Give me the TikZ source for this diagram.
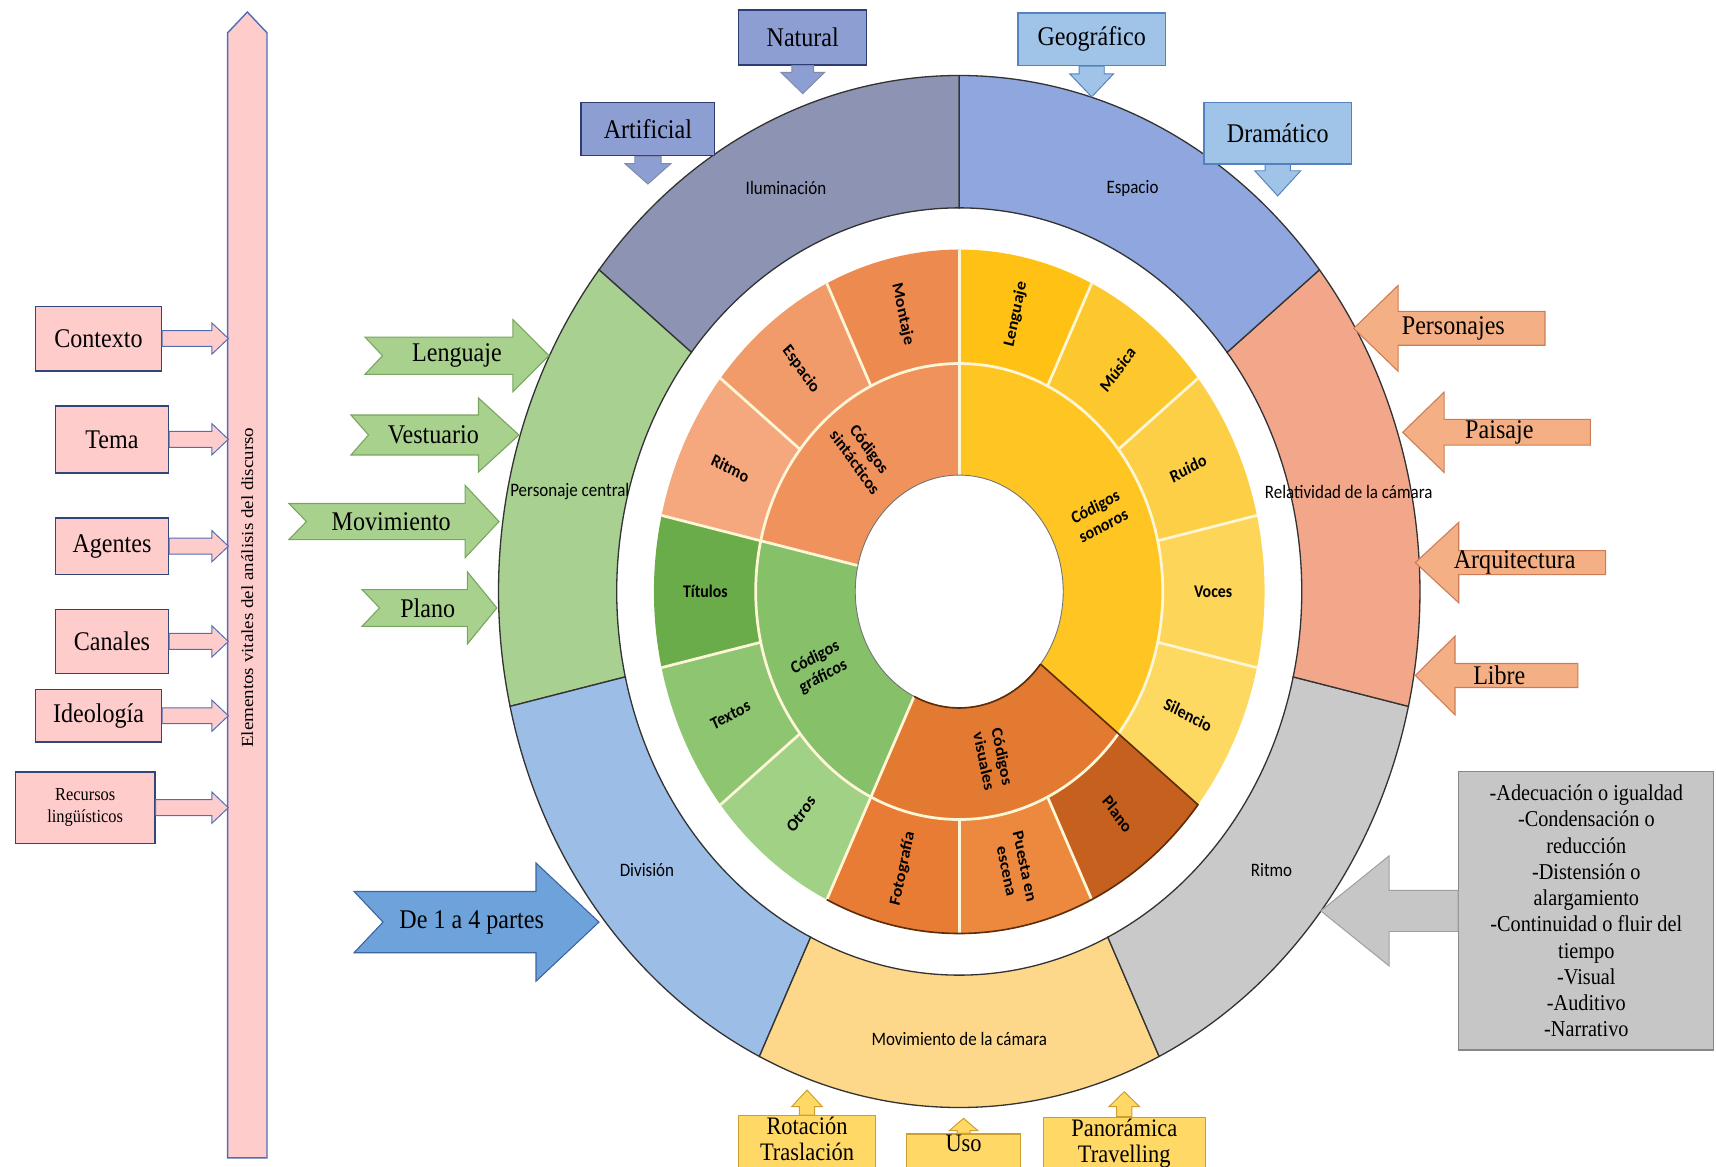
\documentclass[tikz,border=0pt]{standalone}
\usepackage{fontspec}
\setmainfont{Liberation Serif}
\newfontfamily\wheelfont{Carlito}

% box and arrow colours
\definecolor{pinkfill}{RGB}{255,204,204}
\definecolor{boxline}{RGB}{50,70,120}
\definecolor{barline}{RGB}{80,110,180}
\definecolor{greenfill}{RGB}{169,209,142}
\definecolor{greenline}{RGB}{120,165,95}
\definecolor{partsfill}{RGB}{110,162,218}
\definecolor{partsline}{RGB}{60,100,160}
\definecolor{lampfill}{RGB}{140,158,210}
\definecolor{lampline}{RGB}{45,60,115}
\definecolor{skyfill}{RGB}{160,196,232}
\definecolor{skyline}{RGB}{85,130,190}
\definecolor{salmonfill}{RGB}{244,176,132}
\definecolor{salmonline}{RGB}{205,125,85}
\definecolor{greyfill}{RGB}{198,198,198}
\definecolor{greyline}{RGB}{135,135,135}
\definecolor{goldfill}{RGB}{255,216,102}
\definecolor{goldline}{RGB}{205,160,45}
% outer ring
\definecolor{cIlum}{RGB}{141,147,178}
\definecolor{cPers}{RGB}{168,208,145}
\definecolor{cDivi}{RGB}{156,190,230}
\definecolor{cMovi}{RGB}{254,216,138}
\definecolor{cRitm}{RGB}{201,201,201}
\definecolor{cRela}{RGB}{243,167,138}
\definecolor{cEspa}{RGB}{143,166,222}
% inner rings
\definecolor{cSint}{RGB}{240,146,92}
\definecolor{cGraf}{RGB}{134,192,105}
\definecolor{cVisu}{RGB}{226,122,50}
\definecolor{cSono}{RGB}{255,198,35}
\definecolor{cMontaje}{RGB}{237,138,80}
\definecolor{cEspacio}{RGB}{242,155,106}
\definecolor{cRitmo}{RGB}{245,168,125}
\definecolor{cTitulos}{RGB}{106,172,74}
\definecolor{cTextos}{RGB}{142,197,113}
\definecolor{cOtros}{RGB}{160,209,133}
\definecolor{cFoto}{RGB}{232,124,52}
\definecolor{cPuesta}{RGB}{237,137,62}
\definecolor{cPlano}{RGB}{198,96,30}
\definecolor{cSilencio}{RGB}{253,217,98}
\definecolor{cVoces}{RGB}{253,213,88}
\definecolor{cRuido}{RGB}{252,207,70}
\definecolor{cMusica}{RGB}{252,200,46}
\definecolor{cLenguaje}{RGB}{255,194,20}
\definecolor{cream}{RGB}{255,246,215}
\definecolor{visline}{RGB}{95,45,10}

% ring piece: style, inner r, outer r, from, to
\newcommand{\ringpiece}[5]{%
  \path[#1] (#4:#2) arc[start angle=#4, end angle=#5, radius=#2] -- (#5:#3) arc[start angle=#5, end angle=#4, radius=#3] -- cycle;}
% block arrow: style, tail, direction, length, shaft half, head half, head length, notch
\newcommand{\blockarrow}[8][]{%
  \draw[#1, shift={#2}, rotate=#3] (0,-#5) -- ({#4-#7},-#5) -- ({#4-#7},-#6) -- (#4,0) -- ({#4-#7},#6) -- ({#4-#7},#5) -- (0,#5) -- (#8,0) -- cycle;}

\begin{document}
\begin{tikzpicture}[x=1pt, y=1pt, yscale=1.12, transform shape,
    pinkbox/.style={draw=boxline, fill=pinkfill, line width=1.3pt, inner sep=0pt, font=\fontsize{22}{24}\selectfont},
    pinkarrow/.style={draw=barline, fill=pinkfill, line width=0.9pt},
    greenarrow/.style={draw=greenline, fill=greenfill, line width=1pt},
    partsarrow/.style={draw=partsline, fill=partsfill, line width=1pt},
    arrowtext/.style={font=\fontsize{22}{24}\selectfont},
    lampbox/.style={draw=lampline, fill=lampfill, line width=1.3pt, inner sep=0pt, font=\fontsize{22}{24}\selectfont},
    lamparrow/.style={draw=lampline!60, fill=lampfill, line width=0.9pt},
    skybox/.style={draw=skyline, fill=skyfill, line width=1.3pt, inner sep=0pt, font=\fontsize{22}{24}\selectfont},
    skyarrow/.style={draw=skyline, fill=skyfill, line width=0.9pt},
    salmonarrow/.style={draw=salmonline, fill=salmonfill, line width=1pt},
    greybox/.style={draw=greyline, fill=greyfill, line width=1.2pt, align=center, font=\fontsize{18.5}{21.4}\selectfont},
    greyarrow/.style={draw=greyline!80, fill=greyfill, line width=0.9pt},
    goldbox/.style={draw=goldline, fill=goldfill, line width=1.2pt, inner sep=1pt, align=center, text depth=40pt, font=\fontsize{20.5}{21.5}\selectfont},
    goldarrow/.style={draw=goldline, fill=goldfill, line width=0.9pt},
    ringtext/.style={font=\wheelfont\fontsize{15.5}{17}\selectfont},
    leaftext/.style={font=\wheelfont\bfseries\fontsize{14.5}{17}\selectfont, align=center},
    creamline/.style={draw=cream, line width=2.5pt},
    darkline/.style={draw=visline, line width=1.5pt}]
  \useasboundingbox (0,0) rectangle (1568,951.8);
  \clip (0,0) rectangle (1568,951.8);

  % wheel
  \begin{scope}[shift={(876.5,469.2)}]
    \foreach \a/\col [evaluate=\a as \b using \a+51.43] in {90/cIlum, 141.43/cPers, 192.86/cDivi, 244.29/cMovi, 295.71/cRitm, 347.14/cRela, 38.57/cEspa}
      \ringpiece{fill=\col, draw=black!80, line width=1.2pt}{313}{421}{\a}{\b};
    \node[ringtext] (tIlum) at (115.71:365) {Iluminación};
    \node[ringtext] (tPers) at (167.14:365) {Personaje central};
    \node[ringtext] (tDivi) at (218.57:365) {División};
    \node[ringtext] (tMovi) at (270:365) {Movimiento de la cámara};
    \node[ringtext] (tRitm) at (321.43:365) {Ritmo};
    \node[ringtext] (tRela) at (12.86:365) {Relatividad de la cámara};
    \node[ringtext] (tEspa) at (64.29:365) {Espacio};

    \ringpiece{fill=cSint}{95}{186}{90}{167.14}
    \ringpiece{fill=cGraf}{95}{186}{167.14}{244.29}
    \ringpiece{fill=cVisu}{95}{186}{244.29}{321.43}
    \ringpiece{fill=cSono}{95}{186}{321.43}{450}
    \foreach \a/\col [evaluate=\a as \b using \a+25.71] in {90/cMontaje, 115.71/cEspacio, 141.43/cRitmo, 167.14/cTitulos, 192.86/cTextos, 218.57/cOtros, 244.29/cFoto, 270/cPuesta, 295.71/cPlano, 321.43/cSilencio, 347.14/cVoces, 372.86/cRuido, 398.57/cMusica, 424.29/cLenguaje}
      \ringpiece{fill=\col}{186}{279}{\a}{\b};
    \draw[creamline] (0,0) circle (186);
    \foreach \a in {115.71, 141.43, 192.86, 218.57, 270, 295.71, 347.14, 372.86, 398.57, 424.29}
      \draw[creamline] (\a:186) -- (\a:279);
    \foreach \a in {90, 167.14, 244.29}
      \draw[creamline] (\a:95) -- (\a:279);
    \draw[black!55, line width=0.8pt] (0,0) circle (95);
    \draw[darkline] (321.43:95) -- (321.43:279) arc[start angle=321.43, end angle=244.29, radius=279];
    \draw[darkline] (244.29:95) arc[start angle=244.29, end angle=321.43, radius=95];

    \node[leaftext, rotate=-77.14] (lMont) at (102.86:232) {Montaje};
    \node[leaftext, rotate=-51.43] (lEspa) at (128.57:232) {Espacio};
    \node[leaftext, rotate=-25.71] (lRitm) at (154.29:232) {Ritmo};
    \node[leaftext] (lTitu) at (180:232) {Títulos};
    \node[leaftext, rotate=25.71] (lText) at (205.71:232) {Textos};
    \node[leaftext, rotate=51.43] (lOtro) at (231.43:232) {Otros};
    \node[leaftext, rotate=77.14] (lFoto) at (257.14:232) {Fotografía};
    \node[leaftext, rotate=-77.14] (lPues) at (282.86:232) {Puesta en\\escena};
    \node[leaftext, rotate=-51.43] (lPlan) at (308.57:232) {Plano};
    \node[leaftext, rotate=-25.71] (lSile) at (334.29:232) {Silencio};
    \node[leaftext] (lVoce) at (0:232) {Voces};
    \node[leaftext, rotate=25.71] (lRuid) at (25.71:232) {Ruido};
    \node[leaftext, rotate=51.43] (lMusi) at (51.43:232) {Música};
    \node[leaftext, rotate=77.14] (lLeng) at (77.14:232) {Lenguaje};
    \node[leaftext, rotate=-51.43] (cSintx) at (128.57:142) {Códigos\\sintácticos};
    \node[leaftext, rotate=25.71] (cGrafx) at (205.71:142) {Códigos\\gráficos};
    \node[leaftext, rotate=-77.14] (cVisux) at (282.86:140) {Códigos\\visuales};
    \node[leaftext, rotate=25.71] (cSonox) at (25.71:142) {Códigos\\sonoros};
  \end{scope}

  % left bar and its boxes
  \draw[draw=barline, fill=pinkfill, line width=1.3pt] (208,7.1) -- (244,7.1) -- (244,925) -- (226,942) -- (208,925) -- cycle;
  \node[font=\fontsize{15.5}{17}\selectfont, rotate=90] (bartxt) at (226,472.3) {Elementos vitales del análisis del discurso};

  \node[pinkbox, minimum width=115, minimum height=52.7] (ctx) at (90,675.5) {Contexto};
  \node[pinkbox, minimum width=103, minimum height=54.5] (tema) at (102.3,593.3) {Tema};
  \node[pinkbox, minimum width=103, minimum height=46.4] (agen) at (102.3,506.1) {Agentes};
  \node[pinkbox, minimum width=103, minimum height=51.8] (cana) at (102.3,428.4) {Canales};
  \node[pinkbox, minimum width=115, minimum height=42.9] (ideo) at (90,367.8) {Ideología};
  \node[pinkbox, minimum width=127.6, minimum height=58, align=center, font=\fontsize{15}{18}\selectfont] (recu) at (77.8,292.8) {Recursos\\lingüísticos};
  \blockarrow[pinkarrow]{(ctx.east)}{0}{60.5}{6.5}{12.7}{15}{0}
  \blockarrow[pinkarrow]{(tema.east)}{0}{54.2}{6.5}{12.7}{15}{0}
  \blockarrow[pinkarrow]{(agen.east)}{0}{54.2}{6.5}{12.7}{15}{0}
  \blockarrow[pinkarrow]{(cana.east)}{0}{54.2}{6.5}{12.7}{15}{0}
  \blockarrow[pinkarrow]{(ideo.east)}{0}{60.5}{6.5}{12.7}{15}{0}
  \blockarrow[pinkarrow]{(recu.east)}{0}{66.4}{6.5}{12.7}{15}{0}

  % arrows into Personaje central and División
  \blockarrow[greenarrow]{(333.5,661.6)}{0}{168.1}{15.2}{29.5}{33}{16}
  \blockarrow[greenarrow]{(320.7,596.9)}{0}{153.5}{16.3}{30.2}{37}{16}
  \blockarrow[greenarrow]{(264,526.3)}{0}{192}{14.7}{29.5}{31}{16}
  \blockarrow[greenarrow]{(330.8,455.8)}{0}{123.2}{15}{29.5}{27}{16}
  \blockarrow[partsarrow]{(323.5,199.5)}{0}{223.8}{25}{48.2}{57.5}{26.5}
  \node[arrowtext] (gLeng) at (417.5,661.6) {Lenguaje};
  \node[arrowtext] (gVest) at (396,596.9) {Vestuario};
  \node[arrowtext] (gMovi) at (357.5,526.3) {Movimiento};
  \node[arrowtext] (gPlan) at (390.8,455.8) {Plano};
  \node[arrowtext] (gPart) at (431,199.5) {De 1 a 4 partes};

  % boxes over Iluminación and Espacio
  \node[lampbox, minimum width=117, minimum height=45] (nat) at (733.5,921.3) {Natural};
  \node[lampbox, minimum width=122, minimum height=43.6] (art) at (592,846.5) {Artificial};
  \node[skybox, minimum width=135, minimum height=42.9] (geo) at (997.5,919.7) {Geográfico};
  \node[skybox, minimum width=135, minimum height=50] (dra) at (1167.5,843.1) {Dramático};
  \blockarrow[lamparrow]{(nat.south)}{-90}{22.9}{10}{20}{17.4}{0}
  \blockarrow[lamparrow]{(art.south)}{-90}{22.5}{12}{21}{16.6}{0}
  \blockarrow[skyarrow]{(geo.south)}{-90}{25}{11.5}{20}{18.8}{0}
  \blockarrow[skyarrow]{(dra.south)}{-90}{25.6}{11.5}{21}{20.5}{0}

  % arrows into Relatividad de la cámara
  \blockarrow[salmonarrow]{(1411.7,683.9)}{180}{174.7}{13.8}{35}{40.5}{0}
  \blockarrow[salmonarrow]{(1453.2,599.1)}{180}{171.5}{10.5}{32.8}{37.9}{0}
  \blockarrow[salmonarrow]{(1467.1,492.8)}{180}{173.9}{9.8}{32.8}{39.7}{0}
  \blockarrow[salmonarrow]{(1441.7,400.7)}{180}{148.5}{9.8}{32.1}{36.3}{0}
  \node[arrowtext] (sPers) at (1328,683.9) {Personajes};
  \node[arrowtext] (sPais) at (1370,599.1) {Paisaje};
  \node[arrowtext] (sArqu) at (1384,492.8) {Arquitectura};
  \node[arrowtext] (sLibr) at (1370,400.7) {Libre};

  % Ritmo
  \node[greybox, minimum width=233, minimum height=227] (ritbox) at (1449.5,208.6) {-Adecuación o igualdad\\-Condensación o\\reducción\\-Distensión o\\alargamiento\\-Continuidad o fluir del\\tiempo\\-Visual\\-Auditivo\\-Narrativo};
  \blockarrow[greyarrow]{(ritbox.west)}{180}{125.5}{16.8}{45}{62.5}{0}

  % Movimiento de la cámara
  \node[goldbox, anchor=north, minimum width=125.3] (rot) at (737.4,42.1) {Rotación\\Traslación};
  \node[goldbox, anchor=north, minimum width=104.3] (uso) at (880.5,27.1) {Uso};
  \node[goldbox, anchor=north, minimum width=147.8] (pan) at (1027.3,40.7) {Panorámica\\Travelling};
  \blockarrow[goldarrow]{(rot.north)}{90}{20.4}{7}{14}{13.6}{0}
  \blockarrow[goldarrow]{(uso.north)}{90}{12.3}{6}{13}{10}{0}
  \blockarrow[goldarrow]{(pan.north)}{90}{20.4}{7}{14}{12.2}{0}
\end{tikzpicture}
\end{document}
